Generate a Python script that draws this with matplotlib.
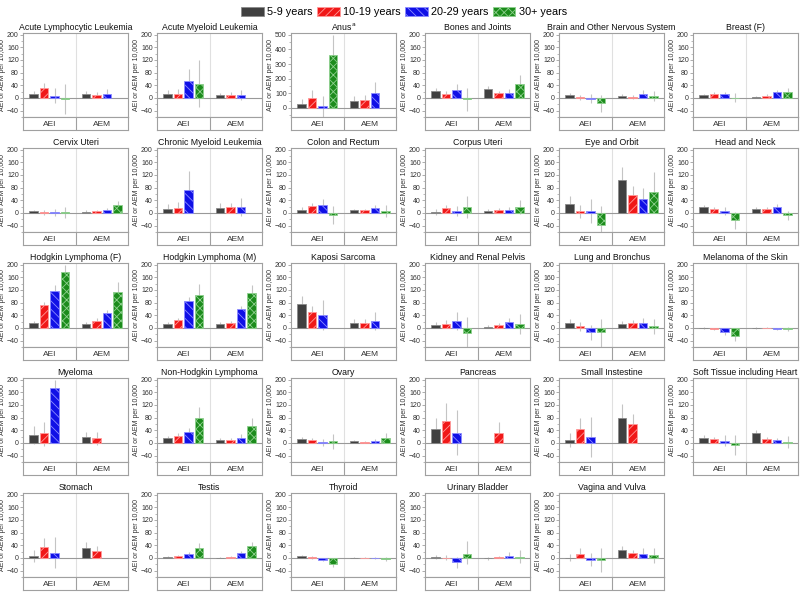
import matplotlib
matplotlib.use('Agg')
import matplotlib.pyplot as plt
import numpy as np
from matplotlib.patches import Patch
from matplotlib.ticker import MultipleLocator

nan = np.nan

sites = [
    'Acute Lymphocytic Leukemia', 'Acute Myeloid Leukemia', 'Anus$^{\\mathrm{a}}$',
    'Bones and Joints', 'Brain and Other Nervous System', 'Breast (F)',
    'Cervix Uteri', 'Chronic Myeloid Leukemia', 'Colon and Rectum',
    'Corpus Uteri', 'Eye and Orbit', 'Head and Neck',
    'Hodgkin Lymphoma (F)', 'Hodgkin Lymphoma (M)', 'Kaposi Sarcoma',
    'Kidney and Renal Pelvis', 'Lung and Bronchus', 'Melanoma of the Skin',
    'Myeloma', 'Non-Hodgkin Lymphoma', 'Ovary',
    'Pancreas', 'Small Instestine', 'Soft Tissue including Heart',
    'Stomach', 'Testis', 'Thyroid', 'Urinary Bladder', 'Vagina and Vulva',
]
age_groups = ['5-9 years', '10-19 years', '20-29 years', '30+ years']
measures = ['AEI', 'AEM']

# one row per site, columns = age groups
aei = [
    [12, 30, 6, -3], [12, 14, 54, 45], [30, 70, 15, 360], [21, 12, 24, -3],
    [8, 2, -2, -15], [8, 14, 11, 1], [5, 2, 2, 2], [13, 15, 72, nan],
    [10, 23, 25, -5], [3, 15, 6, 18], [27, 5, 5, -38], [18, 11, 5, -22],
    [15, 72, 116, 178], [13, 25, 84, 105], [75, 50, 40, nan], [10, 12, 22, -15],
    [15, 5, -12, -12], [1, -2, -13, -25], [25, 30, 175, nan], [15, 22, 34, 78],
    [12, 8, 2, 5], [43, 70, 33, nan], [9, 43, 19, nan], [16, 12, 7, -5],
    [7, 35, 17, nan], [4, 5, 12, 30], [6, 2, -5, -18], [2, 1, -12, 14],
    [1, 14, -5, -5],
]
aei_lo = [
    [2, 15, -15, -50], [2, 3, 20, -30], [5, 30, -60, 220], [10, 3, 5, -40],
    [2, -5, -15, -45], [3, 8, 4, -12], [0, -5, -8, -15], [2, 0, 30, nan],
    [2, 12, 8, -35], [-5, 5, -10, -15], [5, -15, -32, -80], [10, 2, -5, -50],
    [8, 62, 98, 160], [6, 18, 70, 72], [50, 30, -5, nan], [2, 3, -5, -70],
    [5, -10, -38, -60], [-2, -5, -22, -42], [-2, -8, 150, nan], [8, 15, 22, 45],
    [5, 2, -8, -18], [5, 20, -37, nan], [-12, 5, -45, nan], [8, 4, -8, -38],
    [-12, 8, -33, nan], [1, 1, 5, 12], [2, -2, -10, -30], [-3, -6, -32, -20],
    [-10, 0, -25, -45],
]
aei_hi = [
    [22, 47, 30, 45], [25, 28, 92, 120], [60, 120, 80, 500], [33, 22, 45, 32],
    [15, 10, 12, 10], [14, 20, 18, 15], [10, 8, 12, 20], [28, 35, 132, nan],
    [18, 33, 45, 22], [12, 25, 22, 52], [52, 25, 45, 23], [26, 18, 20, 3],
    [22, 82, 135, 200], [20, 32, 98, 138], [100, 70, 88, nan], [18, 25, 50, 35],
    [28, 20, 8, 27], [4, 1, -4, -8], [52, 67, 200, nan], [22, 30, 47, 112],
    [20, 15, 12, 28], [80, 125, 105, nan], [30, 80, 83, nan], [24, 20, 24, 25],
    [26, 63, 65, nan], [7, 9, 19, 48], [10, 5, 0, -5], [8, 8, 2, 52],
    [12, 30, 15, 32],
]
aem = [
    [14, 9, 14, nan], [8, 9, 9, nan], [48, 52, 100, nan], [28, 15, 15, 43],
    [6, 3, 14, 5], [2, 7, 18, 20], [4, 5, 9, 25], [17, 19, 19, nan],
    [8, 8, 15, 7], [6, 8, 10, 18], [105, 58, 43, 65], [14, 11, 18, -7],
    [12, 22, 48, 115], [12, 17, 60, 110], [17, 17, 23, nan], [4, 8, 18, 12],
    [12, 16, 15, 5], [1, 0, -3, -3], [18, 15, nan, nan], [10, 10, 17, 55],
    [5, 3, 7, 16], [nan, 33, nan, nan], [80, 60, nan, nan], [32, 13, 9, 3],
    [30, 22, nan, nan], [1, 3, 15, 38], [1, 1, 0, -3], [-1, 3, 7, 4],
    [24, 16, 12, 8],
]
aem_lo = [
    [5, 2, 2, nan], [0, 0, -5, nan], [15, 20, 30, nan], [18, 8, 2, 15],
    [1, -2, 5, -10], [0, 2, 8, 10], [0, 0, 2, 12], [5, 8, -8, nan],
    [3, 3, 5, -12], [0, 2, 2, -2], [70, 38, 12, 15], [8, 3, 8, -22],
    [5, 15, 38, 85], [5, 10, 50, 85], [5, 5, -5, nan], [0, 0, 5, -20],
    [2, 8, 2, -18], [-2, -1, -7, -10], [3, -5, nan, nan], [5, 5, 8, 30],
    [1, 0, 2, 2], [nan, 3, nan, nan], [40, 28, nan, nan], [22, 6, 2, -15],
    [10, 6, nan, nan], [0, 1, 8, 25], [0, 0, -2, -10], [-5, 0, 0, -15],
    [12, 5, 0, -15],
]
aem_hi = [
    [22, 18, 28, nan], [16, 18, 25, nan], [80, 90, 178, nan], [38, 22, 28, 73],
    [12, 8, 24, 22], [5, 12, 25, 30], [8, 10, 15, 37], [30, 32, 47, nan],
    [12, 13, 25, 25], [12, 15, 20, 40], [145, 85, 78, 130], [20, 20, 28, 5],
    [18, 30, 58, 145], [18, 23, 70, 137], [27, 28, 50, nan], [8, 15, 33, 45],
    [22, 25, 30, 28], [4, 3, 0, 3], [35, 35, nan, nan], [15, 15, 27, 80],
    [10, 6, 12, 31], [nan, 65, nan, nan], [122, 92, nan, nan], [42, 20, 17, 22],
    [50, 38, nan, nan], [3, 5, 22, 50], [2, 2, 2, 3], [2, 5, 18, 25],
    [38, 26, 30, 32],
]

colors = ['#404040', '#f01818', '#1010e6', '#1c8c1c']
edges = ['#8a8a8a', '#ff9a9a', '#8c8cff', '#8fd08f']
hatches = ['', '////', '\\\\\\\\', 'xxxx']
offsets = [-0.3, -0.1, 0.1, 0.3]

plt.rcParams['font.family'] = ['Liberation Sans', 'DejaVu Sans']
plt.rcParams['hatch.linewidth'] = 0.6

W, H = 800, 592
fig = plt.figure(figsize=(8, 5.92), dpi=100)
spine_c = '#a0a0a0'
text_c = '#333333'

for i, site in enumerate(sites):
    r, c = divmod(i, 6)
    left = 23 + 134 * c
    top = 33 + 115 * r
    ax = fig.add_axes([left / W, 1 - (top + 84) / H, 105 / W, 84 / H])
    ax.axvline(0.5, color='#e0e0e0', lw=0.8, zorder=0)
    ax.axhline(0, color='#999999', lw=0.8, zorder=1)
    for k in range(4):
        x = np.array([0, 1]) + offsets[k]
        vals = [aei[i][k], aem[i][k]]
        lo = [aei_lo[i][k], aem_lo[i][k]]
        hi = [aei_hi[i][k], aem_hi[i][k]]
        ax.vlines(x, lo, hi, color='#c4c4c4', lw=0.8, zorder=1.5)
        ax.bar(x, vals, width=0.16, color=colors[k], edgecolor=edges[k],
               hatch=hatches[k], linewidth=0.6, zorder=2)
    ax.set_xlim(-0.5, 1.5)
    ax.set_xticks([])
    if i == 2:
        ax.set_ylim(-62, 512)
        ax.set_yticks(range(0, 501, 100))
        ax.yaxis.set_minor_locator(MultipleLocator(50))
    else:
        ax.set_ylim(-60, 205)
        ax.set_yticks(range(-40, 201, 40))
        ax.yaxis.set_minor_locator(MultipleLocator(20))
    ax.tick_params(axis='y', which='major', labelsize=5, length=2, width=0.6,
                   colors=spine_c, labelcolor=text_c, pad=1)
    ax.tick_params(axis='y', which='minor', length=1.2, width=0.5, colors=spine_c)
    for s in ax.spines.values():
        s.set_color(spine_c)
        s.set_linewidth(0.8)
    ax.set_title(site, fontsize=6.3, pad=2.5, color='#111111')
    ax.set_ylabel('AEI or AEM per 10,000', fontsize=5, labelpad=1, color=text_c)

    bax = fig.add_axes([left / W, 1 - (top + 97) / H, 105 / W, 13 / H])
    bax.set_xlim(-0.5, 1.5)
    bax.set_ylim(0, 1)
    bax.set_xticks([])
    bax.set_yticks([])
    bax.axvline(0.5, color=spine_c, lw=0.8)
    for s in bax.spines.values():
        s.set_color(spine_c)
        s.set_linewidth(0.8)
    for j, m in enumerate(measures):
        bax.text(j, 0.45, m, ha='center', va='center', fontsize=6, color=text_c)

handles = [Patch(facecolor=colors[k], edgecolor=edges[k], hatch=hatches[k],
                 linewidth=0.6, label=age_groups[k]) for k in range(4)]
fig.legend(handles=handles, loc='upper center', bbox_to_anchor=(0.505, 1.005),
           ncol=4, frameon=False, fontsize=7.8, handlelength=2.1,
           handleheight=1.0, handletextpad=0.3, columnspacing=0.4)

fig.savefig('out.png', dpi=100)
plt.close(fig)
